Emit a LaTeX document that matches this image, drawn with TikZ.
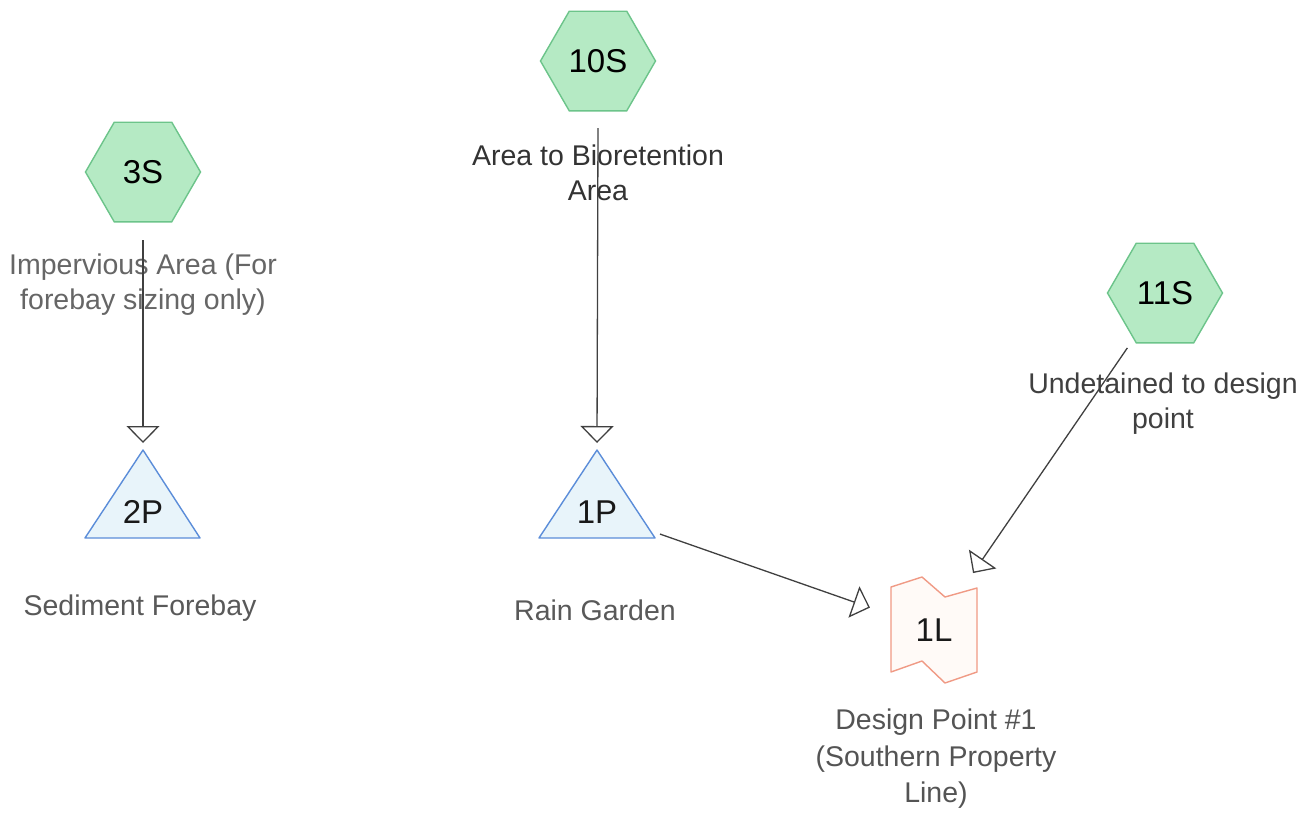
\documentclass[tikz,border=0pt]{standalone}
\usepackage{fontspec}
\setmainfont{Liberation Sans}
\usetikzlibrary{shapes.geometric,arrows.meta,calc}

\definecolor{hexfill}{HTML}{B5EAC4}
\definecolor{hexdraw}{HTML}{6CC48A}
\definecolor{pondfill}{HTML}{E8F4FA}
\definecolor{ponddraw}{HTML}{5B8DD9}
\definecolor{linkfill}{HTML}{FFFAF7}
\definecolor{linkdraw}{HTML}{F09A85}
\definecolor{flowcol}{HTML}{404040}

\tikzset{
  subcat/.style={regular polygon, regular polygon sides=6, minimum size=115pt,
    inner sep=0pt, fill=hexfill, draw=hexdraw, line width=1.4pt,
    font=\fontsize{33}{36}\selectfont, text=black},
  idtext/.style={inner sep=0pt, font=\fontsize{33}{36}\selectfont, text=black!90},
  pondshape/.style={fill=pondfill, draw=ponddraw, line width=1.4pt, line join=round},
  linkshape/.style={fill=linkfill, draw=linkdraw, line width=1.4pt, line join=round},
  caption/.style={align=center, inner sep=0pt, font=\fontsize{28.5}{35}\selectfont},
  flow/.style={draw=flowcol, line width=1.3pt,
    -{Triangle[open,length=17pt,width=33pt,line width=1.3pt]}}
}

\begin{document}
\begin{tikzpicture}[x=1pt,y=-1pt]
\useasboundingbox[fill=white] (0,0) rectangle (1310,812);

% subcatchments
\node[subcat] (s3)  at (143,172) {3S};
\node[subcat] (s10) at (598,61)  {10S};
\node[subcat] (s11) at (1165,293) {11S};

% ponds
\path[pondshape] (143,450) -- (200,538) -- (85,538) -- cycle;
\path[pondshape] (597,450) -- (655,538) -- (539,538) -- cycle;
\node[idtext] (p2) at (143,512) {2P};
\node[idtext] (p1) at (597,512) {1P};

% link
\path[linkshape] (891,587) -- (922,577) -- (945,597) -- (977,588)
  -- (977,672) -- (945,683) -- (922,661) -- (891,672) -- cycle;
\node[idtext] (l1) at (934,630) {1L};

% captions
\node[caption, text=black!60] (c3)  at (143,285) {Impervious Area (For\\forebay sizing only)};
\node[caption, text=black!80] (c10) at (598,173) {Area to Bioretention\\Area};
\node[caption, text=black!75] (c11) at (1163,404) {Undetained to design\\point};
\node[caption, text=black!65] (cp2) at (140,608) {Sediment Forebay};
\node[caption, text=black!65] (cp1) at (595,610) {Rain Garden};
\node[caption, text=black!67, font=\fontsize{28.5}{36.5}\selectfont] (cl1) at (936,759)
  {Design Point \#1\\(Southern Property\\Line)};

% flow connections
\draw[flow] ($(s3)+(0,68)$) -- ($(p2)+(0,-69)$);
\draw[flow] ($(s10)+(0,67)$) -- ($(p1)+(0,-69)$);
\draw[flow] ($(s11)!0.163!(l1)$) -- ($(s11)!0.831!(l1)$);
\draw[flow] ($(p1)!0.187!(l1)$) -- ($(p1)!0.81!(l1)$);
\end{tikzpicture}
\end{document}
